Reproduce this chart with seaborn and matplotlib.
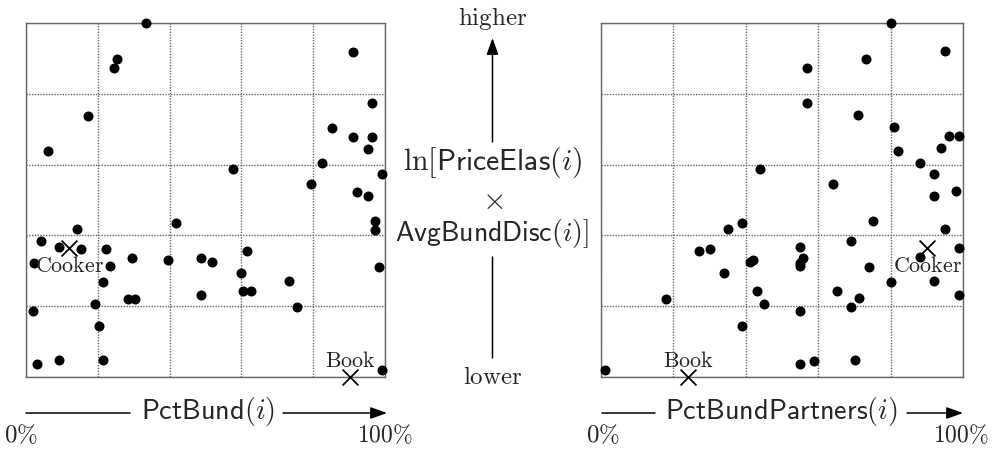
import matplotlib
matplotlib.use("Agg")
import matplotlib.pyplot as plt
import seaborn as sns
import pandas as pd
from matplotlib.patches import FancyArrowPatch

# ---------------- data (percent on x, relative rank 0-100 on y) ----------------
left_x = [33.4, 25.3, 24.4, 91.2, 17.3, 6.2, 96.3, 85.3, 91.2, 96.3, 95.3, 57.7,
          82.4, 99.2, 79.4, 92.3, 95.3, 97.3, 97.3, 98.2, 48.7, 51.7, 61.6, 59.8,
          73.3, 48.7, 60.5, 62.7, 75.4, 99.2, 14.3, 41.7, 4.1, 9.2, 15.3, 22.3,
          2.1, 23.4, 29.4, 39.6, 21.4, 28.3, 30.4, 19.3, 1.9, 20.3, 3.0, 9.2, 21.4]
left_y = [100.0, 89.8, 87.3, 91.8, 73.8, 63.8, 77.3, 70.4, 67.9, 67.9, 64.4, 58.7,
          60.3, 57.2, 54.6, 52.3, 51.1, 44.1, 41.6, 31.0, 33.6, 32.4, 35.7, 29.4,
          27.1, 23.2, 24.3, 24.3, 19.8, 2.1, 41.9, 43.5, 38.5, 36.7, 36.2, 36.2,
          32.2, 31.4, 33.6, 33.1, 26.9, 22.2, 22.1, 20.7, 18.6, 14.5, 3.8, 4.8, 4.8]

right_x = [43.9, 80.0, 94.9, 73.1, 56.9, 56.9, 70.9, 81.0, 96.0, 98.9, 93.8, 82.0,
           88.1, 91.9, 64.0, 91.9, 98.0, 75.2, 94.9, 69.0, 54.9, 55.8, 54.9, 54.9,
           74.0, 98.9, 88.1, 80.1, 91.9, 98.9, 65.1, 71.1, 69.0, 54.9, 54.9, 58.9,
           70.1, 39.0, 35.1, 27.0, 30.1, 41.1, 42.0, 34.0, 43.1, 17.9, 45.0, 39.0, 1.0]
right_y = [58.8, 100.0, 91.9, 89.8, 87.3, 77.3, 73.9, 70.6, 68.0, 68.0, 64.6, 63.9,
           60.4, 57.3, 54.6, 51.2, 52.5, 44.2, 41.8, 38.5, 36.7, 33.7, 32.3, 31.4,
           31.1, 36.4, 33.8, 26.9, 27.2, 23.3, 24.3, 22.4, 19.9, 18.7, 3.8, 4.7,
           4.8, 43.6, 41.9, 35.6, 36.2, 32.5, 33.2, 29.5, 24.3, 22.0, 20.6, 14.5, 2.1]

highlight_names = ["Cooker", "Book"]
left_hx = [12.1, 90.3]
right_hx = [90.1, 24.0]
highlight_y = [36.5, 0.0]

x_labels = [r"$\mathsf{PctBund}(i)$", r"$\mathsf{PctBundPartners}(i)$"]
end_labels = [r"$0\%$", r"$100\%$"]
mid_labels = [r"$\ln[\mathsf{PriceElas}(i)$", r"$\times$", r"$\mathsf{AvgBundDisc}(i)]$"]

# ---------------- figure ----------------
sns.set_theme(style="white")
plt.rcParams["mathtext.fontset"] = "cm"
plt.rcParams["font.family"] = ["DejaVu Serif"]

W, H = 994, 449
fig = plt.figure(figsize=(W / 100, H / 100), dpi=100)

def fx(px):
    return px / W

def fy(py):
    return 1 - py / H

top, bottom = 22.7, 377.3
panels = [
    (26.0, 359.0, left_x, left_y, left_hx),
    (601.0, 362.3, right_x, right_y, right_hx),
]

for (x0, w, xs, ys, hx) in panels:
    ax = fig.add_axes([fx(x0), fy(bottom), w / W, (bottom - top) / H])
    df = pd.DataFrame({"x": xs, "y": ys})
    sns.scatterplot(data=df, x="x", y="y", ax=ax, color="black", s=52,
                    edgecolor="black", linewidth=0, clip_on=False, zorder=3)
    hdf = pd.DataFrame({"x": hx, "y": highlight_y, "name": highlight_names})
    sns.scatterplot(data=hdf, x="x", y="y", ax=ax, color="black", marker="x",
                    s=130, linewidth=1.3, clip_on=False, zorder=4)
    for xv, yv, nm in zip(hx, highlight_y, highlight_names):
        off = -5.0 if nm == "Cooker" else 4.6
        ax.text(xv, yv + off, r"$\mathrm{%s}$" % nm, ha="center", va="center",
                fontsize=15.8, color="#222222", zorder=5)
    ax.set_xlim(0, 100)
    ax.set_ylim(0, 100)
    ticks = [0, 20, 40, 60, 80, 100]
    ax.set_xticks(ticks)
    ax.set_yticks(ticks)
    ax.set_xticklabels([])
    ax.set_yticklabels([])
    ax.tick_params(length=0)
    ax.grid(True, color="#666666", linestyle=(0, (1, 1)), linewidth=1.0)
    for sp in ax.spines.values():
        sp.set_visible(True)
        sp.set_color("#666666")
        sp.set_linestyle((0, (1, 1)))
        sp.set_linewidth(1.0)
    ax.set_xlabel("")
    ax.set_ylabel("")
    if ax.get_legend():
        ax.get_legend().remove()
    ax.set_facecolor("none")

def line(x1, y1, x2, y2, head=False):
    arr = FancyArrowPatch((fx(x1), fy(y1)), (fx(x2), fy(y2)),
                          transform=fig.transFigure,
                          arrowstyle="-|>,head_length=0.5,head_width=0.18" if head else "-",
                          mutation_scale=20, color="black", linewidth=1.1,
                          shrinkA=0, shrinkB=0)
    fig.add_artist(arr)

# middle annotation
fig.text(fx(492.5), fy(18), r"$\mathrm{higher}$", ha="center", va="center", fontsize=18)
line(492.5, 142, 492.5, 38, head=True)
fig.text(fx(493), fy(162), mid_labels[0], ha="center", va="center", fontsize=21.5)
fig.text(fx(493), fy(200), mid_labels[1], ha="center", va="center", fontsize=22)
fig.text(fx(492), fy(233), mid_labels[2], ha="center", va="center", fontsize=20)
line(492.5, 257, 492.5, 358)
fig.text(fx(492.5), fy(378), r"$\mathrm{lower}$", ha="center", va="center", fontsize=18)

# bottom axis labels
line(26, 413, 130, 413)
fig.text(fx(207.5), fy(411), x_labels[0], ha="center", va="center", fontsize=20.3)
line(283, 413, 387, 413, head=True)
fig.text(fx(21), fy(435), end_labels[0], ha="center", va="center", fontsize=18)
fig.text(fx(385), fy(435), end_labels[1], ha="center", va="center", fontsize=17)

line(602, 413, 655, 413)
fig.text(fx(781), fy(411), x_labels[1], ha="center", va="center", fontsize=20.3)
line(907, 413, 963, 413, head=True)
fig.text(fx(603), fy(435), end_labels[0], ha="center", va="center", fontsize=18)
fig.text(fx(961), fy(435), end_labels[1], ha="center", va="center", fontsize=17)

fig.savefig("out.png", dpi=100)
